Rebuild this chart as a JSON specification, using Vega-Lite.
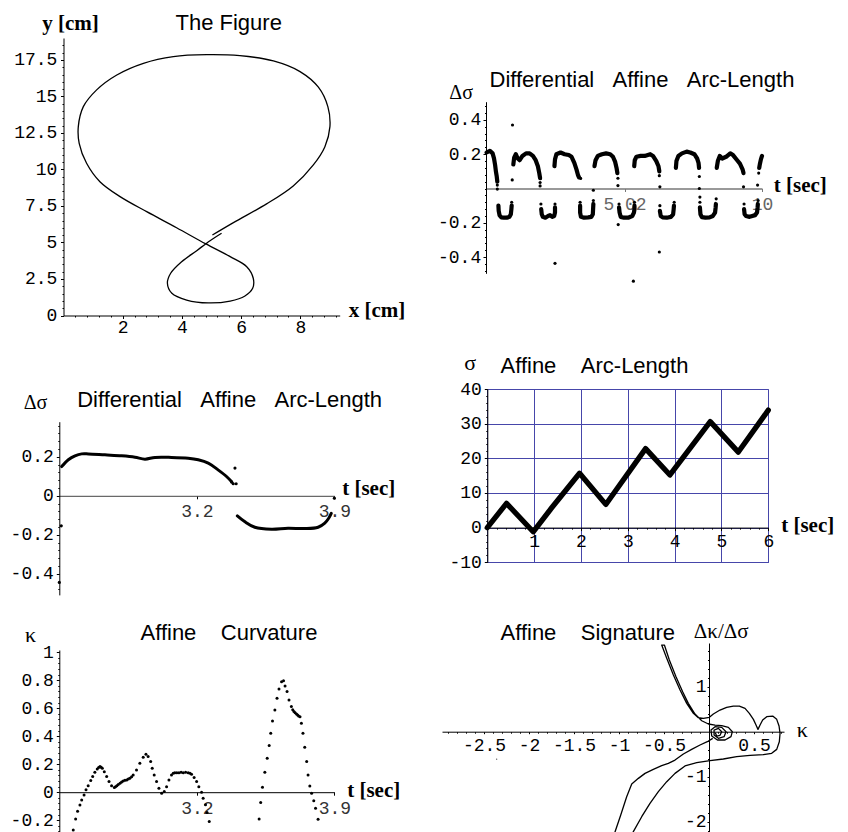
{
  "$schema": "https://vega.github.io/schema/vega-lite/v6.json",
  "background": "white",
  "width": 848,
  "height": 832,
  "autosize": {"type": "none"},
  "padding": 0,
  "config": {
    "view": {"stroke": null},
    "font": "Liberation Sans",
    "axis": {
      "labelFont": "Liberation Mono", "labelFontSize": 18, "labelColor": "#000",
      "domainColor": "#000", "tickColor": "#000", "domainWidth": 1, "tickWidth": 1,
      "tickSize": 3, "labelPadding": 3, "grid": false, "labelFlush": false,
      "labelOverlap": false, "titleFont": "Liberation Serif", "titleFontSize": 21,
      "titleFontWeight": "bold", "titleColor": "#000", "titleAngle": 0, "titlePadding": 0
    }
  },
  "datasets": {
    "none": [],
    "fig": [
      {"x":5.03,"y":5.51},{"x":5.74,"y":6.36},{"x":6.86,"y":7.64},{"x":7.76,"y":8.87},{"x":8.44,"y":10.31},
      {"x":8.83,"y":11.56},{"x":9.0,"y":12.93},{"x":8.93,"y":14.3},{"x":8.61,"y":15.63},{"x":7.99,"y":16.7},
      {"x":7.09,"y":17.43},{"x":5.96,"y":17.79},{"x":4.84,"y":17.86},{"x":3.71,"y":17.73},{"x":2.7,"y":17.27},
      {"x":1.8,"y":16.47},{"x":1.12,"y":15.45},{"x":0.67,"y":14.3},{"x":0.5,"y":12.93},{"x":0.53,"y":11.79},
      {"x":0.78,"y":10.42},{"x":1.23,"y":9.16},{"x":1.91,"y":8.14},{"x":2.81,"y":7.11},{"x":3.82,"y":6.01},
      {"x":4.81,"y":4.9},{"x":5.63,"y":4.03},{"x":6.19,"y":3.34},{"x":6.41,"y":2.55},{"x":6.39,"y":1.86},
      {"x":6.13,"y":1.34},{"x":5.63,"y":0.99},{"x":4.89,"y":0.86},{"x":4.16,"y":1.06},{"x":3.66,"y":1.52},
      {"x":3.51,"y":2.21},{"x":3.62,"y":2.89},{"x":3.99,"y":3.68},{"x":4.5,"y":4.44},{"x":4.95,"y":5.12},
      {"x":5.34,"y":5.63}
    ],
    "das": [
      {"t":0.02,"v":0.21,"s":"u1"},{"t":0.14,"v":0.22,"s":"u1"},{"t":0.24,"v":0.205,"s":"u1"},{"t":0.29,"v":0.176,"s":"u1"},{"t":0.33,"v":0.137,"s":"u1"},{"t":0.36,"v":0.098,"s":"u1"},{"t":0.39,"v":0.069,"s":"u1"},{"t":0.41,"v":0.04,"s":"u1"},
      {"t":0.45,"v":-0.1,"s":"l1"},{"t":0.46,"v":-0.13,"s":"l1"},{"t":0.49,"v":-0.155,"s":"l1"},{"t":0.55,"v":-0.168,"s":"l1"},{"t":0.65,"v":-0.17,"s":"l1"},{"t":0.75,"v":-0.17,"s":"l1"},{"t":0.85,"v":-0.165,"s":"l1"},{"t":0.9,"v":-0.15,"s":"l1"},{"t":0.92,"v":-0.12,"s":"l1"},{"t":0.93,"v":-0.1,"s":"l1"},
      {"t":0.99,"v":0.14,"s":"u2"},{"t":1.02,"v":0.18,"s":"u2"},{"t":1.08,"v":0.2,"s":"u2"},{"t":1.15,"v":0.175,"s":"u2"},{"t":1.22,"v":0.165,"s":"u2"},{"t":1.32,"v":0.19,"s":"u2"},{"t":1.45,"v":0.205,"s":"u2"},{"t":1.58,"v":0.205,"s":"u2"},{"t":1.7,"v":0.19,"s":"u2"},{"t":1.8,"v":0.165,"s":"u2"},{"t":1.88,"v":0.13,"s":"u2"},{"t":1.93,"v":0.09,"s":"u2"},{"t":1.96,"v":0.06,"s":"u2"},
      {"t":2.0,"v":-0.12,"s":"l2"},{"t":2.02,"v":-0.15,"s":"l2"},{"t":2.06,"v":-0.165,"s":"l2"},{"t":2.15,"v":-0.17,"s":"l2"},{"t":2.25,"v":-0.16,"s":"l2"},{"t":2.32,"v":-0.155,"s":"l2"},{"t":2.4,"v":-0.165,"s":"l2"},{"t":2.47,"v":-0.16,"s":"l2"},{"t":2.5,"v":-0.14,"s":"l2"},{"t":2.5,"v":-0.11,"s":"l2"},
      {"t":2.48,"v":0.13,"s":"u3"},{"t":2.5,"v":0.17,"s":"u3"},{"t":2.55,"v":0.2,"s":"u3"},{"t":2.7,"v":0.21,"s":"u3"},{"t":2.85,"v":0.2,"s":"u3"},{"t":3.0,"v":0.195,"s":"u3"},{"t":3.1,"v":0.185,"s":"u3"},{"t":3.2,"v":0.15,"s":"u3"},{"t":3.28,"v":0.11,"s":"u3"},{"t":3.33,"v":0.08,"s":"u3"},{"t":3.37,"v":0.065,"s":"u3"},
      {"t":3.41,"v":-0.1,"s":"l3"},{"t":3.41,"v":-0.14,"s":"l3"},{"t":3.44,"v":-0.165,"s":"l3"},{"t":3.55,"v":-0.17,"s":"l3"},{"t":3.7,"v":-0.168,"s":"l3"},{"t":3.82,"v":-0.165,"s":"l3"},{"t":3.87,"v":-0.15,"s":"l3"},{"t":3.88,"v":-0.12,"s":"l3"},{"t":3.89,"v":-0.09,"s":"l3"},
      {"t":3.93,"v":0.13,"s":"u4"},{"t":3.97,"v":0.165,"s":"u4"},{"t":4.05,"v":0.19,"s":"u4"},{"t":4.2,"v":0.2,"s":"u4"},{"t":4.35,"v":0.205,"s":"u4"},{"t":4.5,"v":0.2,"s":"u4"},{"t":4.6,"v":0.185,"s":"u4"},{"t":4.68,"v":0.155,"s":"u4"},{"t":4.73,"v":0.12,"s":"u4"},{"t":4.76,"v":0.09,"s":"u4"},
      {"t":4.82,"v":-0.11,"s":"l4"},{"t":4.84,"v":-0.14,"s":"l4"},{"t":4.88,"v":-0.165,"s":"l4"},{"t":5.0,"v":-0.17,"s":"l4"},{"t":5.15,"v":-0.17,"s":"l4"},{"t":5.3,"v":-0.16,"s":"l4"},{"t":5.36,"v":-0.14,"s":"l4"},{"t":5.38,"v":-0.12,"s":"l4"},{"t":5.38,"v":-0.1,"s":"l4"},
      {"t":5.37,"v":0.13,"s":"u5"},{"t":5.39,"v":0.165,"s":"u5"},{"t":5.45,"v":0.185,"s":"u5"},{"t":5.6,"v":0.19,"s":"u5"},{"t":5.75,"v":0.19,"s":"u5"},{"t":5.95,"v":0.2,"s":"u5"},{"t":6.05,"v":0.19,"s":"u5"},{"t":6.17,"v":0.16,"s":"u5"},{"t":6.25,"v":0.13,"s":"u5"},{"t":6.28,"v":0.1,"s":"u5"},
      {"t":6.3,"v":-0.13,"s":"l5"},{"t":6.33,"v":-0.16,"s":"l5"},{"t":6.4,"v":-0.168,"s":"l5"},{"t":6.55,"v":-0.17,"s":"l5"},{"t":6.7,"v":-0.165,"s":"l5"},{"t":6.78,"v":-0.15,"s":"l5"},{"t":6.8,"v":-0.12,"s":"l5"},{"t":6.81,"v":-0.1,"s":"l5"},
      {"t":6.88,"v":0.12,"s":"u6"},{"t":6.9,"v":0.16,"s":"u6"},{"t":6.97,"v":0.19,"s":"u6"},{"t":7.1,"v":0.205,"s":"u6"},{"t":7.27,"v":0.215,"s":"u6"},{"t":7.4,"v":0.21,"s":"u6"},{"t":7.55,"v":0.2,"s":"u6"},{"t":7.65,"v":0.175,"s":"u6"},{"t":7.7,"v":0.15,"s":"u6"},{"t":7.72,"v":0.12,"s":"u6"},
      {"t":7.75,"v":-0.11,"s":"l6"},{"t":7.77,"v":-0.15,"s":"l6"},{"t":7.82,"v":-0.167,"s":"l6"},{"t":7.95,"v":-0.17,"s":"l6"},{"t":8.1,"v":-0.168,"s":"l6"},{"t":8.22,"v":-0.16,"s":"l6"},{"t":8.3,"v":-0.14,"s":"l6"},{"t":8.32,"v":-0.11,"s":"l6"},{"t":8.33,"v":-0.09,"s":"l6"},
      {"t":8.36,"v":0.12,"s":"u7"},{"t":8.4,"v":0.16,"s":"u7"},{"t":8.47,"v":0.19,"s":"u7"},{"t":8.56,"v":0.175,"s":"u7"},{"t":8.7,"v":0.185,"s":"u7"},{"t":8.85,"v":0.205,"s":"u7"},{"t":8.95,"v":0.195,"s":"u7"},{"t":9.1,"v":0.165,"s":"u7"},{"t":9.2,"v":0.145,"s":"u7"},{"t":9.3,"v":0.11,"s":"u7"},{"t":9.33,"v":0.09,"s":"u7"},
      {"t":9.35,"v":-0.12,"s":"l7"},{"t":9.37,"v":-0.15,"s":"l7"},{"t":9.42,"v":-0.16,"s":"l7"},{"t":9.55,"v":-0.165,"s":"l7"},{"t":9.65,"v":-0.16,"s":"l7"},{"t":9.75,"v":-0.155,"s":"l7"},{"t":9.82,"v":-0.14,"s":"l7"},{"t":9.84,"v":-0.11,"s":"l7"},{"t":9.85,"v":-0.09,"s":"l7"},
      {"t":10.0,"v":0.19,"s":"u8"},{"t":9.96,"v":0.17,"s":"u8"},{"t":9.92,"v":0.14,"s":"u8"},{"t":9.9,"v":0.12,"s":"u8"}
    ],
    "dasDots": [
      {"t":0.41,"v":0.02},{"t":0.41,"v":-0.003},{"t":0.95,"v":0.05},{"t":0.96,"v":0.37},{"t":0.93,"v":-0.08},
      {"t":1.96,"v":0.035},{"t":1.96,"v":0.015},{"t":1.99,"v":-0.09},{"t":2.5,"v":-0.09},{"t":2.5,"v":-0.436},
      {"t":3.43,"v":0.059},{"t":3.41,"v":-0.08},{"t":3.89,"v":-0.07},{"t":3.89,"v":-0.01},{"t":4.78,"v":0.06},
      {"t":4.78,"v":0.017},{"t":4.79,"v":-0.21},{"t":4.82,"v":-0.09},{"t":5.34,"v":-0.54},{"t":5.38,"v":-0.08},
      {"t":6.28,"v":0.075},{"t":6.3,"v":0.01},{"t":6.28,"v":-0.37},{"t":6.3,"v":-0.1},{"t":6.82,"v":-0.08},
      {"t":7.73,"v":0.07},{"t":7.73,"v":0.0},{"t":7.75,"v":-0.05},{"t":7.75,"v":-0.08},{"t":8.34,"v":-0.06},
      {"t":9.33,"v":0.01},{"t":9.35,"v":-0.09},{"t":9.88,"v":0.09},{"t":9.84,"v":0.02},{"t":9.86,"v":-0.07}
    ],
    "das2": [
      {"t":2.512,"v":0.15,"s":"a"},{"t":2.546,"v":0.185,"s":"a"},{"t":2.58,"v":0.205,"s":"a"},{"t":2.614,"v":0.215,"s":"a"},{"t":2.648,"v":0.215,"s":"a"},{"t":2.732,"v":0.21,"s":"a"},{"t":2.817,"v":0.205,"s":"a"},{"t":2.885,"v":0.198,"s":"a"},{"t":2.936,"v":0.188,"s":"a"},{"t":2.987,"v":0.197,"s":"a"},{"t":3.071,"v":0.197,"s":"a"},{"t":3.156,"v":0.193,"s":"a"},{"t":3.207,"v":0.185,"s":"a"},{"t":3.258,"v":0.168,"s":"a"},{"t":3.308,"v":0.133,"s":"a"},{"t":3.351,"v":0.099,"s":"a"},{"t":3.376,"v":0.073,"s":"a"},
      {"t":3.406,"v":-0.103,"s":"b"},{"t":3.443,"v":-0.132,"s":"b"},{"t":3.495,"v":-0.161,"s":"b"},{"t":3.58,"v":-0.171,"s":"b"},{"t":3.664,"v":-0.166,"s":"b"},{"t":3.749,"v":-0.168,"s":"b"},{"t":3.817,"v":-0.161,"s":"b"},{"t":3.851,"v":-0.14,"s":"b"},{"t":3.871,"v":-0.115,"s":"b"},{"t":3.884,"v":-0.09,"s":"b"}
    ],
    "das2Dots": [
      {"t":3.394,"v":0.142},{"t":3.385,"v":0.062},{"t":3.4,"v":0.062},{"t":2.51,"v":-0.154},{"t":2.5,"v":-0.444},{"t":3.9,"v":-0.012},{"t":3.378,"v":0.07}
    ],
    "sigma": [
      {"t":0,"sigma":0},{"t":0.41,"sigma":7.0},{"t":0.98,"sigma":-1.2},{"t":1.35,"sigma":5.3},{"t":1.97,"sigma":15.7},
      {"t":2.53,"sigma":6.7},{"t":3.38,"sigma":22.8},{"t":3.9,"sigma":15.2},{"t":4.76,"sigma":30.6},{"t":5.36,"sigma":21.8},
      {"t":6.0,"sigma":33.9}
    ],
    "kappa": [
      {"t":2.571,"k":-0.269},{"t":2.583,"k":-0.191},{"t":2.593,"k":-0.135},{"t":2.605,"k":-0.091},{"t":2.614,"k":-0.055},
      {"t":2.626,"k":-0.019},{"t":2.636,"k":0.017},{"t":2.647,"k":0.047},{"t":2.66,"k":0.083},{"t":2.67,"k":0.112},
      {"t":2.681,"k":0.143},{"t":2.693,"k":0.166},{"t":2.7,"k":0.176},{"t":2.707,"k":0.183},{"t":2.713,"k":0.178},
      {"t":2.719,"k":0.171},{"t":2.729,"k":0.147},{"t":2.741,"k":0.112},{"t":2.753,"k":0.076},{"t":2.766,"k":0.047},
      {"t":2.78,"k":0.033},{"t":2.786,"k":0.04},{"t":2.793,"k":0.047},{"t":2.8,"k":0.055},{"t":2.809,"k":0.064},
      {"t":2.817,"k":0.073},{"t":2.825,"k":0.081},{"t":2.834,"k":0.085},{"t":2.843,"k":0.088},{"t":2.851,"k":0.094},
      {"t":2.859,"k":0.1},{"t":2.868,"k":0.11},{"t":2.876,"k":0.123},{"t":2.893,"k":0.159},{"t":2.91,"k":0.207},
      {"t":2.927,"k":0.25},{"t":2.941,"k":0.271},{"t":2.952,"k":0.255},{"t":2.965,"k":0.219},{"t":2.973,"k":0.171},
      {"t":2.983,"k":0.124},{"t":2.995,"k":0.076},{"t":3.007,"k":0.029},{"t":3.021,"k":-0.007},{"t":3.034,"k":0.005},
      {"t":3.046,"k":0.04},{"t":3.058,"k":0.088},{"t":3.071,"k":0.124},{"t":3.08,"k":0.135},{"t":3.088,"k":0.14},
      {"t":3.098,"k":0.14},{"t":3.109,"k":0.14},{"t":3.12,"k":0.142},{"t":3.131,"k":0.14},{"t":3.143,"k":0.142},
      {"t":3.156,"k":0.14},{"t":3.165,"k":0.136},{"t":3.173,"k":0.128},{"t":3.186,"k":0.105},{"t":3.199,"k":0.076},
      {"t":3.21,"k":0.04},{"t":3.224,"k":0},{"t":3.232,"k":-0.043},{"t":3.244,"k":-0.09},{"t":3.252,"k":-0.145},
      {"t":3.263,"k":-0.209},
      {"t":3.517,"k":-0.191},{"t":3.525,"k":-0.074},{"t":3.534,"k":0.036},{"t":3.546,"k":0.143},{"t":3.558,"k":0.243},
      {"t":3.568,"k":0.333},{"t":3.576,"k":0.421},{"t":3.585,"k":0.509},{"t":3.597,"k":0.588},{"t":3.608,"k":0.671},
      {"t":3.618,"k":0.738},{"t":3.631,"k":0.79},{"t":3.641,"k":0.797},{"t":3.649,"k":0.759},{"t":3.659,"k":0.719},
      {"t":3.669,"k":0.659},{"t":3.681,"k":0.612},{"t":3.688,"k":0.59},{"t":3.694,"k":0.576},{"t":3.7,"k":0.567},
      {"t":3.707,"k":0.559},{"t":3.713,"k":0.552},{"t":3.718,"k":0.545},{"t":3.725,"k":0.54},{"t":3.732,"k":0.493},
      {"t":3.74,"k":0.421},{"t":3.749,"k":0.321},{"t":3.759,"k":0.219},{"t":3.766,"k":0.124},{"t":3.775,"k":0.045},
      {"t":3.784,"k":-0.007},{"t":3.795,"k":-0.06},{"t":3.804,"k":-0.114},{"t":3.817,"k":-0.193}
    ],
    "sig": [
      {"k":-0.905,"dk":-2.45,"s":"a"},{"k":-0.841,"dk":-2.222,"s":"a"},{"k":-0.748,"dk":-1.889,"s":"a"},{"k":-0.656,"dk":-1.591,"s":"a"},
      {"k":-0.563,"dk":-1.333,"s":"a"},{"k":-0.47,"dk":-1.111,"s":"a"},{"k":-0.378,"dk":-0.926,"s":"a"},{"k":-0.267,"dk":-0.762,"s":"a"},
      {"k":-0.137,"dk":-0.689,"s":"a"},{"k":0.011,"dk":-0.644,"s":"a"},{"k":0.159,"dk":-0.607,"s":"a"},{"k":0.307,"dk":-0.556,"s":"a"},
      {"k":0.456,"dk":-0.526,"s":"a"},{"k":0.604,"dk":-0.511,"s":"a"},{"k":0.696,"dk":-0.481,"s":"a"},{"k":0.752,"dk":-0.393,"s":"a"},
      {"k":0.781,"dk":-0.222,"s":"a"},{"k":0.789,"dk":-0.037,"s":"a"},{"k":0.778,"dk":0.126,"s":"a"},{"k":0.752,"dk":0.274,"s":"a"},
      {"k":0.707,"dk":0.348,"s":"a"},{"k":0.641,"dk":0.333,"s":"a"},{"k":0.596,"dk":0.259,"s":"a"},{"k":0.567,"dk":0.148,"s":"a"},
      {"k":0.544,"dk":0.052,"s":"a"},{"k":0.522,"dk":0.148,"s":"a"},{"k":0.493,"dk":0.274,"s":"a"},{"k":0.448,"dk":0.407,"s":"a"},
      {"k":0.4,"dk":0.519,"s":"a"},{"k":0.337,"dk":0.57,"s":"a"},{"k":0.27,"dk":0.57,"s":"a"},{"k":0.196,"dk":0.541,"s":"a"},
      {"k":0.122,"dk":0.481,"s":"a"},{"k":0.048,"dk":0.393,"s":"a"},{"k":0.004,"dk":0.319,"s":"a"},{"k":-0.063,"dk":0.296,"s":"a"},
      {"k":-0.119,"dk":0.311,"s":"a"},{"k":-0.174,"dk":0.407,"s":"a"},{"k":-0.248,"dk":0.63,"s":"a"},{"k":-0.322,"dk":0.926,"s":"a"},
      {"k":-0.396,"dk":1.259,"s":"a"},{"k":-0.47,"dk":1.63,"s":"a"},{"k":-0.526,"dk":1.926,"s":"a"},{"k":-0.496,"dk":1.926,"s":"a"},
      {"k":-0.441,"dk":1.593,"s":"a"},{"k":-0.367,"dk":1.222,"s":"a"},{"k":-0.293,"dk":0.889,"s":"a"},{"k":-0.23,"dk":0.63,"s":"a"},
      {"k":-0.156,"dk":0.393,"s":"a"},{"k":-0.081,"dk":0.244,"s":"a"},{"k":-0.007,"dk":0.171,"s":"a"},{"k":0.067,"dk":0.148,"s":"a"},
      {"k":0.141,"dk":0.133,"s":"a"},{"k":0.215,"dk":0.096,"s":"a"},{"k":0.259,"dk":0.0,"s":"a"},{"k":0.244,"dk":-0.111,"s":"a"},
      {"k":0.178,"dk":-0.185,"s":"a"},{"k":0.093,"dk":-0.185,"s":"a"},{"k":0.03,"dk":-0.096,"s":"a"},{"k":0.022,"dk":0.037,"s":"a"},
      {"k":0.067,"dk":0.111,"s":"a"},{"k":0.141,"dk":0.096,"s":"a"},{"k":0.189,"dk":0.0,"s":"a"},{"k":0.167,"dk":-0.111,"s":"a"},
      {"k":0.104,"dk":-0.148,"s":"a"},{"k":0.056,"dk":-0.074,"s":"a"},{"k":0.056,"dk":0.037,"s":"a"},{"k":0.104,"dk":0.074,"s":"a"},
      {"k":0.141,"dk":0.0,"s":"a"},{"k":0.122,"dk":-0.081,"s":"a"},{"k":0.085,"dk":-0.096,"s":"a"},{"k":0.07,"dk":-0.022,"s":"a"},
      {"k":0.041,"dk":-0.148,"s":"b"},{"k":-0.019,"dk":-0.222,"s":"b"},{"k":-0.1,"dk":-0.296,"s":"b"},{"k":-0.193,"dk":-0.393,"s":"b"},
      {"k":-0.285,"dk":-0.496,"s":"b"},{"k":-0.378,"dk":-0.63,"s":"b"},{"k":-0.452,"dk":-0.704,"s":"b"},{"k":-0.526,"dk":-0.756,"s":"b"},
      {"k":-0.619,"dk":-0.837,"s":"b"},{"k":-0.711,"dk":-0.926,"s":"b"},{"k":-0.785,"dk":-1.037,"s":"b"},{"k":-0.859,"dk":-1.163,"s":"b"},
      {"k":-0.915,"dk":-1.444,"s":"b"},{"k":-0.981,"dk":-1.852,"s":"b"},{"k":-1.044,"dk":-2.222,"s":"b"},{"k":-1.08,"dk":-2.45,"s":"b"}
    ],
    "sigDots": [{"k":-2.36,"dk":-0.61}]
  },
  "resolve": {"scale": {"x": "independent", "y": "independent"}, "axis": {"x": "independent", "y": "independent"}},
  "layer": [
    {
      "resolve": {"axis": {"x": "independent", "y": "independent"}},
      "layer": [
        {
          "data": {"name": "fig"},
          "mark": {"type": "line", "color": "#000", "strokeWidth": 1.3, "interpolate": "catmull-rom"},
          "encoding": {
            "order": {"value": null},
            "x": {"field": "x", "type": "quantitative", "scale": {"domain": [0, 9.33], "range": [63.5, 339.7], "nice": false, "zero": false},
              "axis": {"orient": "bottom", "offset": -516.5, "values": [2, 4, 6, 8], "labelExpr": "datum.value + ''", "labelPadding": 0,
                "title": "x [cm]", "titleX": 348.3, "titleY": 1, "titleAlign": "left", "titleBaseline": "alphabetic"}},
            "y": {"field": "y", "type": "quantitative", "scale": {"domain": [0, 19.0], "range": [315.5, 38], "nice": false, "zero": false},
              "axis": {"orient": "left", "offset": -63.5, "values": [0, 2.5, 5, 7.5, 10, 12.5, 15, 17.5], "labelExpr": "datum.value + ''", "labelPadding": 3.6,
                "title": "y [cm]", "titleAngle": 0, "titleX": 6.5, "titleY": 29.3, "titleAlign": "center", "titleBaseline": "alphabetic"}}
          }
        },
        {
          "data": {"name": "none"},
          "mark": "point",
          "encoding": {
            "x": {"field": "x", "type": "quantitative", "scale": {"domain": [0, 9.33], "range": [63.5, 339.7], "nice": false, "zero": false},
              "axis": {"orient": "bottom", "offset": -516.5, "values": [0.4, 0.8, 1.2, 1.6, 2.4, 2.8, 3.2, 3.6, 4.4, 4.8, 5.2, 5.6, 6.4, 6.8, 7.2, 7.6, 8.4, 8.8, 9.2], "labels": false, "domain": false, "tickSize": 1.5, "title": null}},
            "y": {"field": "y", "type": "quantitative", "scale": {"domain": [0, 19.0], "range": [315.5, 38], "nice": false, "zero": false},
              "axis": {"orient": "left", "offset": -63.5, "values": [0.5, 1, 1.5, 2, 3, 3.5, 4, 4.5, 5.5, 6, 6.5, 7, 8, 8.5, 9, 9.5, 10.5, 11, 11.5, 12, 13, 13.5, 14, 14.5, 15.5, 16, 16.5, 17, 18, 18.5], "labels": false, "domain": false, "tickSize": 1.5, "title": null}}
          }
        },
        {
          "data": {"name": "none"},
          "mark": "point",
          "encoding": {
            "x": {"field": "x", "type": "quantitative", "scale": {"domain": [0, 9.33], "range": [63.5, 339.7], "nice": false, "zero": false},
              "axis": {"orient": "top", "values": [], "labels": false, "ticks": false, "domain": false,
                "title": "The Figure", "titleFont": "Liberation Sans", "titleFontWeight": "normal", "titleFontSize": 22,
                "titleX": 175, "titleY": 29.3, "titleAlign": "left", "titleBaseline": "alphabetic"}},
            "y": {"field": "y", "type": "quantitative", "scale": {"domain": [0, 19.0], "range": [315.5, 38], "nice": false, "zero": false}, "axis": null}
          }
        }
      ]
    },
    {
      "resolve": {"axis": {"x": "independent", "y": "independent"}},
      "layer": [
        {
          "data": {"name": "das"},
          "mark": {"type": "line", "color": "#000", "strokeWidth": 4.2, "strokeCap": "round", "strokeJoin": "round"},
          "encoding": {
            "order": {"value": null},
            "detail": {"field": "s"},
            "x": {"field": "t", "type": "quantitative", "scale": {"domain": [0, 10], "range": [486, 762], "nice": false, "zero": false},
              "axis": {"orient": "bottom", "offset": -643.5, "values": [5.02, 10], "labelExpr": "datum.value + ''", "labelColor": "#666", "labelPadding": 3.5,
                "domainColor": "#777", "domainWidth": 1.5, "tickColor": "#777",
                "title": "t [sec]", "titleX": 773.3, "titleY": 3, "titleAlign": "left", "titleBaseline": "alphabetic"}},
            "y": {"field": "v", "type": "quantitative", "scale": {"domain": [-0.494, 0.506], "range": [273.3, 101.7], "nice": false, "zero": false},
              "axis": {"orient": "left", "offset": -486, "values": [-0.4, -0.2, 0.2, 0.4], "labelExpr": "datum.value + ''", "labelPadding": 2.3,
                "title": "Δσ", "titleFontWeight": "normal", "titleFontSize": 20, "titleAngle": 0, "titleX": -25.3, "titleY": 98.3, "titleAlign": "center", "titleBaseline": "alphabetic"}}
          }
        },
        {
          "data": {"name": "dasDots"},
          "mark": {"type": "point", "filled": true, "color": "#000", "size": 10, "opacity": 1},
          "encoding": {
            "x": {"field": "t", "type": "quantitative", "scale": {"domain": [0, 10], "range": [486, 762], "nice": false, "zero": false}, "axis": null},
            "y": {"field": "v", "type": "quantitative", "scale": {"domain": [-0.494, 0.506], "range": [273.3, 101.7], "nice": false, "zero": false}, "axis": null}
          }
        },
        {
          "data": {"name": "none"},
          "mark": "point",
          "encoding": {
            "x": {"field": "t", "type": "quantitative", "scale": {"domain": [0, 10], "range": [486, 762], "nice": false, "zero": false},
              "axis": {"orient": "top", "values": [], "labels": false, "ticks": false, "domain": false,
                "title": "Differential\u00a0\u00a0\u00a0Affine\u00a0\u00a0\u00a0Arc-Length", "titleFont": "Liberation Sans", "titleFontWeight": "normal", "titleFontSize": 22,
                "titleX": 489, "titleY": 86.7, "titleAlign": "left", "titleBaseline": "alphabetic"}},
            "y": {"field": "v", "type": "quantitative", "scale": {"domain": [-0.494, 0.506], "range": [273.3, 101.7], "nice": false, "zero": false},
              "axis": {"orient": "left", "offset": -486, "values": [-0.48, -0.44, -0.36, -0.32, -0.28, -0.24, -0.16, -0.12, -0.08, -0.04, 0, 0.04, 0.08, 0.12, 0.16, 0.24, 0.28, 0.32, 0.36, 0.44, 0.48], "labels": false, "domain": false, "tickSize": 1.5, "title": null}}
          }
        }
      ]
    },
    {
      "resolve": {"axis": {"x": "independent", "y": "independent"}},
      "layer": [
        {
          "data": {"name": "das2"},
          "mark": {"type": "line", "color": "#000", "strokeWidth": 3, "interpolate": "catmull-rom", "strokeCap": "round"},
          "encoding": {
            "order": {"value": null},
            "detail": {"field": "s"},
            "x": {"field": "t", "type": "quantitative", "scale": {"domain": [2.5, 3.9], "range": [59.3, 334.4], "nice": false, "zero": false},
              "axis": {"orient": "bottom", "offset": -336.2, "values": [3.2, 3.9], "labelExpr": "datum.value + ''", "labelColor": "#333", "labelPadding": 3.3, "domainColor": "#444",
                "title": "t [sec]", "titleX": 341.7, "titleY": -1, "titleAlign": "left", "titleBaseline": "alphabetic"}},
            "y": {"field": "v", "type": "quantitative", "scale": {"domain": [-0.508, 0.38], "range": [594.9, 421.7], "nice": false, "zero": false},
              "axis": {"orient": "left", "offset": -59.3, "values": [-0.4, -0.2, 0, 0.2], "labelExpr": "datum.value + ''", "labelPadding": 3,
                "title": "Δσ", "titleFontWeight": "normal", "titleFontSize": 20, "titleAngle": 0, "titleX": -24.3, "titleY": 408.3, "titleAlign": "center", "titleBaseline": "alphabetic"}}
          }
        },
        {
          "data": {"name": "das2Dots"},
          "mark": {"type": "point", "filled": true, "color": "#000", "size": 10, "opacity": 1},
          "encoding": {
            "x": {"field": "t", "type": "quantitative", "scale": {"domain": [2.5, 3.9], "range": [59.3, 334.4], "nice": false, "zero": false}, "axis": null},
            "y": {"field": "v", "type": "quantitative", "scale": {"domain": [-0.508, 0.38], "range": [594.9, 421.7], "nice": false, "zero": false}, "axis": null}
          }
        },
        {
          "data": {"name": "none"},
          "mark": "point",
          "encoding": {
            "x": {"field": "t", "type": "quantitative", "scale": {"domain": [2.5, 3.9], "range": [59.3, 334.4], "nice": false, "zero": false},
              "axis": {"orient": "top", "values": [], "labels": false, "ticks": false, "domain": false,
                "title": "Differential\u00a0\u00a0\u00a0Affine\u00a0\u00a0\u00a0Arc-Length", "titleFont": "Liberation Sans", "titleFontWeight": "normal", "titleFontSize": 22,
                "titleX": 76.7, "titleY": 406, "titleAlign": "left", "titleBaseline": "alphabetic"}},
            "y": {"field": "v", "type": "quantitative", "scale": {"domain": [-0.508, 0.38], "range": [594.9, 421.7], "nice": false, "zero": false},
              "axis": {"orient": "left", "offset": -59.3, "values": [-0.48, -0.44, -0.36, -0.32, -0.28, -0.24, -0.16, -0.12, -0.08, -0.04, 0.04, 0.08, 0.12, 0.16, 0.24, 0.28, 0.32, 0.36], "labels": false, "domain": false, "tickSize": 1.5, "title": null}}
          }
        }
      ]
    },
    {
      "resolve": {"axis": {"x": "independent", "y": "independent"}},
      "layer": [
        {
          "data": {"name": "none"},
          "mark": "point",
          "encoding": {
            "x": {"field": "t", "type": "quantitative", "scale": {"domain": [0, 6], "range": [487.3, 768.3], "nice": false, "zero": false},
              "axis": {"orient": "top", "values": [0, 1, 2, 3, 4, 5, 6], "grid": true, "gridColor": "#4646aa", "gridWidth": 1, "ticks": false, "labels": false, "domain": false, "title": null}},
            "y": {"field": "sigma", "type": "quantitative", "scale": {"domain": [-10, 40], "range": [562.3, 389], "nice": false, "zero": false},
              "axis": {"orient": "left", "values": [-10, 0, 10, 20, 30, 40], "grid": true, "gridColor": "#4646aa", "gridWidth": 1, "ticks": false, "labels": false, "domain": false, "title": null}}
          }
        },
        {
          "data": {"name": "sigma"},
          "mark": {"type": "line", "color": "#000", "strokeWidth": 5.3, "strokeCap": "round", "strokeJoin": "round"},
          "encoding": {
            "order": {"value": null},
            "x": {"field": "t", "type": "quantitative", "scale": {"domain": [0, 6], "range": [487.3, 768.3], "nice": false, "zero": false},
              "axis": {"orient": "bottom", "offset": -304.4, "values": [1, 2, 3, 4, 5, 6], "labelExpr": "datum.value + ''", "labelPadding": 1.6,
                "title": "t [sec]", "titleX": 780.7, "titleY": 4, "titleAlign": "left", "titleBaseline": "alphabetic"}},
            "y": {"field": "sigma", "type": "quantitative", "scale": {"domain": [-10, 40], "range": [562.3, 389], "nice": false, "zero": false},
              "axis": {"orient": "left", "offset": -487.3, "values": [-10, 0, 10, 20, 30, 40], "labelExpr": "datum.value + ''", "labelPadding": 3,
                "title": "σ", "titleFontWeight": "normal", "titleFontSize": 22, "titleAngle": 0, "titleX": -17.6, "titleY": 369.3, "titleAlign": "center", "titleBaseline": "alphabetic"}}
          }
        },
        {
          "data": {"name": "none"},
          "mark": "point",
          "encoding": {
            "x": {"field": "t", "type": "quantitative", "scale": {"domain": [0, 6], "range": [487.3, 768.3], "nice": false, "zero": false},
              "axis": {"orient": "bottom", "offset": -304.4, "values": [0.2, 0.4, 0.6, 0.8, 1.2, 1.4, 1.6, 1.8, 2.2, 2.4, 2.6, 2.8, 3.2, 3.4, 3.6, 3.8, 4.2, 4.4, 4.6, 4.8, 5.2, 5.4, 5.6, 5.8], "labels": false, "domain": false, "tickSize": 1.5, "title": null}},
            "y": {"field": "sigma", "type": "quantitative", "scale": {"domain": [-10, 40], "range": [562.3, 389], "nice": false, "zero": false},
              "axis": {"orient": "left", "offset": -487.3, "values": [-8, -6, -4, -2, 2, 4, 6, 8, 12, 14, 16, 18, 22, 24, 26, 28, 32, 34, 36, 38], "labels": false, "domain": false, "tickSize": 1.5, "title": null}}
          }
        },
        {
          "data": {"name": "none"},
          "mark": "point",
          "encoding": {
            "x": {"field": "t", "type": "quantitative", "scale": {"domain": [0, 6], "range": [487.3, 768.3], "nice": false, "zero": false},
              "axis": {"orient": "top", "values": [], "labels": false, "ticks": false, "domain": false,
                "title": "Affine\u00a0\u00a0\u00a0\u00a0Arc-Length", "titleFont": "Liberation Sans", "titleFontWeight": "normal", "titleFontSize": 22,
                "titleX": 500, "titleY": 372.7, "titleAlign": "left", "titleBaseline": "alphabetic"}},
            "y": {"field": "sigma", "type": "quantitative", "scale": {"domain": [-10, 40], "range": [562.3, 389], "nice": false, "zero": false}, "axis": null}
          }
        }
      ]
    },
    {
      "resolve": {"axis": {"x": "independent", "y": "independent"}},
      "layer": [
        {
          "data": {"name": "kappa"},
          "mark": {"type": "point", "filled": true, "color": "#000", "size": 9, "opacity": 1},
          "encoding": {
            "x": {"field": "t", "type": "quantitative", "scale": {"domain": [2.5, 3.9], "range": [59.3, 334.4], "nice": false, "zero": false},
              "axis": {"orient": "bottom", "offset": -39.8, "values": [3.2, 3.9], "labelExpr": "datum.value + ''", "labelColor": "#333", "labelPadding": 4,
                "title": "t [sec]", "titleX": 346.7, "titleY": 4, "titleAlign": "left", "titleBaseline": "alphabetic"}},
            "y": {"field": "k", "type": "quantitative", "scale": {"domain": [-0.284, 1.016], "range": [832, 650], "nice": false, "zero": false},
              "axis": {"orient": "left", "offset": -59.3, "values": [-0.2, 0, 0.2, 0.4, 0.6, 0.8, 1], "labelExpr": "datum.value + ''", "labelPadding": 3,
                "title": "κ", "titleFontWeight": "normal", "titleFontSize": 22, "titleAngle": 0, "titleX": -29.3, "titleY": 641.7, "titleAlign": "center", "titleBaseline": "alphabetic"}}
          }
        },
        {
          "data": {"name": "none"},
          "mark": "point",
          "encoding": {
            "x": {"field": "t", "type": "quantitative", "scale": {"domain": [2.5, 3.9], "range": [59.3, 334.4], "nice": false, "zero": false},
              "axis": {"orient": "top", "values": [], "labels": false, "ticks": false, "domain": false,
                "title": "Affine\u00a0\u00a0\u00a0\u00a0Curvature", "titleFont": "Liberation Sans", "titleFontWeight": "normal", "titleFontSize": 22,
                "titleX": 140, "titleY": 639, "titleAlign": "left", "titleBaseline": "alphabetic"}},
            "y": {"field": "k", "type": "quantitative", "scale": {"domain": [-0.284, 1.016], "range": [832, 650], "nice": false, "zero": false},
              "axis": {"orient": "left", "offset": -59.3, "values": [-0.28, -0.24, -0.16, -0.12, -0.08, -0.04, 0.04, 0.08, 0.12, 0.16, 0.24, 0.28, 0.32, 0.36, 0.44, 0.48, 0.52, 0.56, 0.64, 0.68, 0.72, 0.76, 0.84, 0.88, 0.92, 0.96], "labels": false, "domain": false, "tickSize": 1.5, "title": null}}
          }
        }
      ]
    },
    {
      "resolve": {"axis": {"x": "independent", "y": "independent"}},
      "layer": [
        {
          "data": {"name": "sig"},
          "mark": {"type": "line", "color": "#000", "strokeWidth": 1.3, "clip": true, "strokeJoin": "round"},
          "encoding": {
            "order": {"value": null},
            "detail": {"field": "s"},
            "x": {"field": "k", "type": "quantitative", "scale": {"domain": [-2.967, 0.833], "range": [442, 784], "nice": false, "zero": false},
              "axis": {"orient": "bottom", "offset": -100.3, "values": [-2.5, -2, -1.5, -1, -0.5, 0.5], "labelExpr": "datum.value + ''", "tickSize": 2, "labelPadding": 3,
                "title": "κ", "titleFontWeight": "normal", "titleFontSize": 22, "titleX": 801.7, "titleY": 5, "titleAlign": "center", "titleBaseline": "alphabetic"}},
            "y": {"field": "dk", "type": "quantitative", "scale": {"domain": [-2.229, 1.971], "range": [832, 643], "nice": false, "zero": false},
              "axis": {"orient": "left", "offset": -709, "values": [-2, -1, 1], "labelExpr": "datum.value + ''", "tickSize": 2, "labelPadding": 1,
                "title": "Δκ/Δσ", "titleFontWeight": "normal", "titleFontSize": 21, "titleAngle": 0, "titleX": 11.7, "titleY": 637.3, "titleAlign": "center", "titleBaseline": "alphabetic"}}
          }
        },
        {
          "data": {"name": "sigDots"},
          "mark": {"type": "point", "filled": true, "color": "#555", "size": 2, "opacity": 1},
          "encoding": {
            "x": {"field": "k", "type": "quantitative", "scale": {"domain": [-2.967, 0.833], "range": [442, 784], "nice": false, "zero": false}, "axis": null},
            "y": {"field": "dk", "type": "quantitative", "scale": {"domain": [-2.229, 1.971], "range": [832, 643], "nice": false, "zero": false}, "axis": null}
          }
        },
        {
          "data": {"name": "none"},
          "mark": "point",
          "encoding": {
            "x": {"field": "k", "type": "quantitative", "scale": {"domain": [-2.967, 0.833], "range": [442, 784], "nice": false, "zero": false},
              "axis": {"orient": "bottom", "offset": -100.3, "values": [-2.9, -2.8, -2.7, -2.6, -2.4, -2.3, -2.2, -2.1, -1.9, -1.8, -1.7, -1.6, -1.4, -1.3, -1.2, -1.1, -0.9, -0.8, -0.7, -0.6, -0.4, -0.3, -0.2, -0.1, 0.1, 0.2, 0.3, 0.4, 0.6, 0.7, 0.8], "labels": false, "domain": false, "tickSize": 1.5, "title": null}},
            "y": {"field": "dk", "type": "quantitative", "scale": {"domain": [-2.229, 1.971], "range": [832, 643], "nice": false, "zero": false},
              "axis": {"orient": "left", "offset": -709, "values": [-2.2, -1.8, -1.6, -1.4, -1.2, -0.8, -0.6, -0.4, -0.2, 0.2, 0.4, 0.6, 0.8, 1.2, 1.4, 1.6, 1.8], "labels": false, "domain": false, "tickSize": 1.5, "title": null}}
          }
        },
        {
          "data": {"name": "none"},
          "mark": "point",
          "encoding": {
            "x": {"field": "k", "type": "quantitative", "scale": {"domain": [-2.967, 0.833], "range": [442, 784], "nice": false, "zero": false},
              "axis": {"orient": "top", "values": [], "labels": false, "ticks": false, "domain": false,
                "title": "Affine\u00a0\u00a0\u00a0\u00a0Signature", "titleFont": "Liberation Sans", "titleFontWeight": "normal", "titleFontSize": 22,
                "titleX": 500, "titleY": 639.3, "titleAlign": "left", "titleBaseline": "alphabetic"}},
            "y": {"field": "dk", "type": "quantitative", "scale": {"domain": [-2.229, 1.971], "range": [832, 643], "nice": false, "zero": false}, "axis": null}
          }
        }
      ]
    }
  ]
}
